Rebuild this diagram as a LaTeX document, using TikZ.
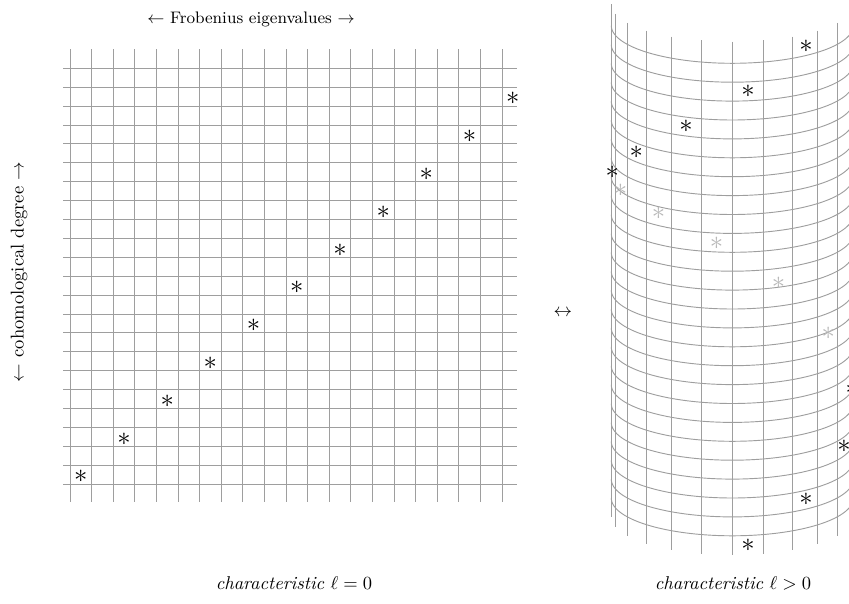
\documentclass[tikz,border=0pt]{standalone}
\tikzset{
  gridline/.style={draw=black!38, line width=0.5pt},
  starmark/.style={inner sep=0pt, font=\Large},
  label/.style={inner sep=1pt},
}
\begin{document}
\begin{tikzpicture}[x=0.54pt,y=-0.54pt]
\useasboundingbox (0,0) rectangle (849,603);
% ---- flat grid (characteristic 0)
\foreach \i in {0,...,20}
  \draw[gridline] ({70+21.6*\i},49.3) -- ({70+21.6*\i},501.7);
\foreach \j in {0,...,22}
  \draw[gridline] (63.3,{68.3+18.9*\j}) -- (516.7,{68.3+18.9*\j});
\foreach \k in {0,...,10}
  \node[starmark] (s\k) at ({80.8+43.2*\k},{476.6-37.8*\k}) {$*$};
% ---- cylinder (characteristic > 0)
\def\cx{732.3}\def\R{121}\def\b{37.7}
\foreach \t in {-90,-75,...,90}
  \draw[gridline] ({\cx+\R*sin(\t)},{4+\b*cos(\t)}) -- ({\cx+\R*sin(\t)},{517.3+\b*cos(\t)});
\foreach \j in {0,...,25}
  \draw[gridline] plot[domain=-90:90,samples=73] ({\cx+\R*sin(\x)},{25.6+18.9*\j+\b*cos(\x)});
\foreach \k/\c in {0/black,1/black,2/black,3/black,4/black!28,5/black!28,6/black!28,7/black!28,8/black!28,9/black,10/black,11/black,12/black,13/black}
  \node[starmark,text=\c] (c\k) at ({\cx+\R*sin(7.5+30*\k)},{507.55-37.8*\k+\b*cos(7.5+30*\k)}) {$*$};
% ---- labels
\node[label,font=\small] (top) at (251,19) {$\leftarrow$ Frobenius eigenvalues $\rightarrow$};
\node[label,rotate=90] (side) at (19,272) {$\leftarrow$ cohomological degree $\rightarrow$};
\node[label] (equiv) at (563,313) {$\leftrightarrow$};
\node[label] (char0) at (294,583) {\textit{characteristic} $\ell=0$};
\node[label] (charp) at (733,583) {\textit{characteristic} $\ell>0$};
\end{tikzpicture}
\end{document}
